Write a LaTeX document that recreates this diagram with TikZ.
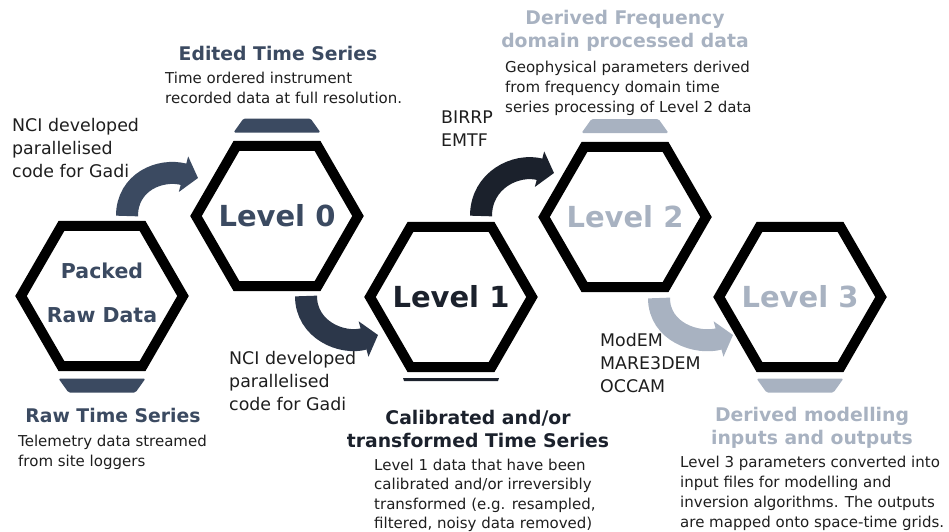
\documentclass[tikz,border=0pt]{standalone}
\usepackage{fontspec}
\setmainfont{DejaVu Sans}
\usetikzlibrary{positioning,arrows.meta,shapes.geometric}
\definecolor{slate}{HTML}{3B4A61}
\definecolor{navy}{HTML}{2C374A}
\definecolor{ink}{HTML}{1B212C}
\definecolor{mist}{HTML}{A8B2C1}
\definecolor{body}{HTML}{1E1E1E}

\begin{document}
\begin{tikzpicture}[
  x=1pt,y=-1pt,
  %--- hexagons and tabs ---
  hexa/.style   ={draw=black,line width=10pt,regular polygon,regular polygon sides=6,
                  minimum size=162pt,inner sep=0pt,outer sep=0pt},
  lvl/.style    ={font=\fontsize{29}{32}\selectfont\bfseries,align=center,inner sep=0pt},
  tabup/.pic    ={\path[pic actions,rounded corners=1.5pt]
                  (-43.5,7) -- (-33.5,-7) -- (33.5,-7) -- (43.5,7) -- cycle;},
  tabdown/.pic  ={\path[pic actions,rounded corners=1.5pt]
                  (-43.5,-7) -- (-33.5,7) -- (33.5,7) -- (43.5,-7) -- cycle;},
  %--- texts ---
  head/.style   ={font=\fontsize{18.8}{23.5}\selectfont\bfseries,align=center,inner sep=0pt},
  note/.style   ={font=\fontsize{15}{20}\selectfont,text=body,align=left,
                  anchor=north west,inner sep=0pt},
  tool/.style   ={font=\fontsize{17.4}{22.8}\selectfont,text=body,align=left,
                  anchor=north west,inner sep=0pt},
  %--- fat curved arrows ---
  flow/.style   ={line width=22pt,-{Triangle[length=15pt,width=36pt]}},
]
\useasboundingbox (0,0) rectangle (949,531);

%==================== hexagons ====================
\node[hexa,label={[lvl,text=slate,yshift=3pt,font=\fontsize{20.5}{24}\selectfont\bfseries]
      center:Packed\\[20pt]Raw Data}] (raw) at (102,296) {};
\node[hexa,label={[lvl,text=slate]center:Level 0}] (L0) at (277,216) {};
\node[hexa,label={[lvl,text=ink]center:Level 1}]   (L1) at (451,297) {};
\node[hexa,label={[lvl,text=mist]center:Level 2}]  (L2) at (625,217) {};
\node[hexa,label={[lvl,text=mist]center:Level 3}]  (L3) at (800,297) {};

%==================== tabs ====================
\path (102,385.5) pic[fill=slate] {tabdown};
\path (277,125.5) pic[fill=slate] {tabup};
\fill[ink] (403,378) -- (499,378) -- (498,381) -- (404,381) -- cycle;
\path (625,126)   pic[fill=mist]  {tabup};
\path (800,385.5) pic[fill=mist]  {tabdown};

%==================== headings ====================
\node[head,text=slate] (rawhd) at (113,415) {Raw Time Series};
\node[head,text=slate] (L0hd)  at (278,53)  {Edited Time Series};
\node[head,text=ink]   (L1hd)  at (478,429) {Calibrated and/or\\transformed Time Series};
\node[head,text=mist]  (L2hd)  at (625,31)  {Derived Frequency\\domain processed data};
\node[head,text=mist]  (L3hd)  at (812,428) {Derived modelling\\inputs and outputs};

%==================== descriptions ====================
\node[note] (rawtx) at (18,435)  {Telemetry data streamed\\from site loggers};
\node[note] (L0tx)  at (165,72)  {Time ordered instrument\\recorded data at full resolution.};
\node[note,font=\fontsize{15}{19.3}\selectfont] (L1tx) at (374,459)
  {Level 1 data that have been\\calibrated and/or irreversibly\\
   transformed (e.g. resampled,\\filtered, noisy data removed)};
\node[note] (L2tx)  at (505,61)  {Geophysical parameters derived\\from frequency domain time\\
                                  series processing of Level 2 data};
\node[note] (L3tx)  at (680,456) {Level 3 parameters converted into\\input files for modelling and\\
                                  inversion algorithms. The outputs\\are mapped onto space-time grids.};

%==================== processing tools ====================
\node[tool] (nciA) at (12,118)  {NCI developed\\parallelised\\code for Gadi};
\node[tool] (nciB) at (229,351) {NCI developed\\parallelised\\code for Gadi};
\node[tool] (bir)  at (441,111) {BIRRP\\EMTF};
\node[tool] (mod)  at (600,333) {ModEM\\MARE3DEM\\OCCAM};

%==================== arrows between levels ====================
\coordinate (a1) at (127,216);  \coordinate (t1) at (198,178);
\coordinate (a2) at (306,296);  \coordinate (t2) at (378,335);
\coordinate (a3) at (481,216);  \coordinate (t3) at (554,173);
\coordinate (a4) at (659,298);  \coordinate (t4) at (733,335);
\draw[flow,slate] (a1) .. controls (127,182) and (160,168) .. (t1);
\draw[flow,navy]  (a2) .. controls (306,330) and (342,345) .. (t2);
\draw[flow,ink]   (a3) .. controls (481,180) and (516,163) .. (t3);
\draw[flow,mist]  (a4) .. controls (659,332) and (697,345) .. (t4);

\end{tikzpicture}
\end{document}
